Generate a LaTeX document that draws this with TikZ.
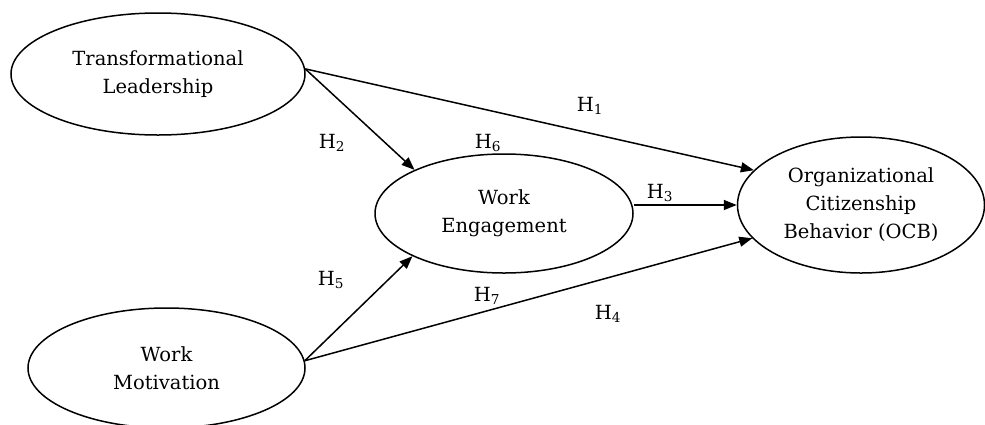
\documentclass[tikz,border=0pt]{standalone}
\usepackage{fontspec}
\setmainfont{DejaVu Serif}
\usetikzlibrary{shapes.geometric,arrows.meta}

\begin{document}
\begin{tikzpicture}[x=1pt,y=-1pt,
    latent/.style={draw, ellipse, line width=1.5pt, inner sep=0pt, align=center,
        font=\fontsize{19.5}{28}\selectfont},
    hyp/.style={font=\fontsize{19.5}{28}\selectfont, inner sep=0pt},
    path/.style={line width=1.5pt, -{Triangle[length=13pt,width=10pt]}}]
            \useasboundingbox (0,0) rectangle (985,424);
            \node[latent, minimum width=294pt, minimum height=122pt] (tl) at (158,74) {Transformational\\Leadership};
            \node[latent, minimum width=277pt, minimum height=120pt] (wm) at (166.5,368) {Work\\Motivation};
            \node[latent, minimum width=258pt, minimum height=119pt] (we) at (504,213.5) {Work\\Engagement};
            \node[latent, minimum width=247pt, minimum height=136pt] (ocb) at (861,205) {Organizational\\Citizenship\\Behavior (OCB)};
            \draw[path] (tl.2) -- (ocb.162);
            \draw[path] (tl.2) -- (we.154);
            \draw[path] (we.east |- ocb.west) -- (ocb.west);
            \draw[path] (wm.3) -- (we.205);
            \draw[path] (wm.3) -- (ocb.197);
            \node[hyp] (h1) at (590,106) {H\textsubscript{1}};
            \node[hyp] (h2) at (332,143) {H\textsubscript{2}};
            \node[hyp] (h3) at (660,193) {H\textsubscript{3}};
            \node[hyp] (h4) at (608,314) {H\textsubscript{4}};
            \node[hyp] (h5) at (331,280) {H\textsubscript{5}};
            \node[hyp] (h6) at (488,143) {H\textsubscript{6}};
            \node[hyp] (h7) at (487,296) {H\textsubscript{7}};
        \end{tikzpicture}
\end{document}
